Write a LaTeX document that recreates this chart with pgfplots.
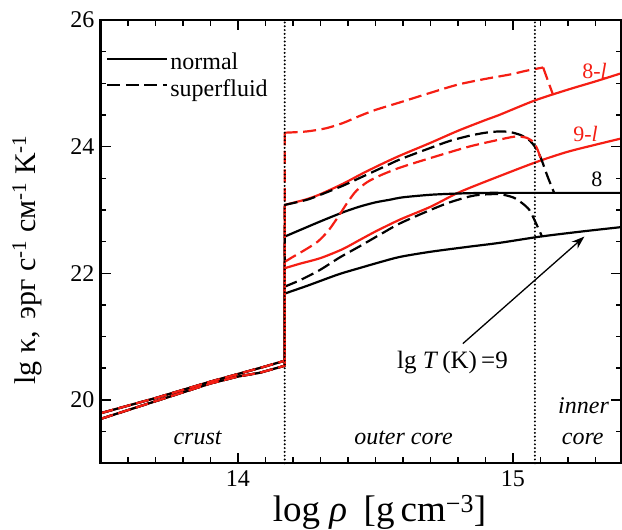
\documentclass[border=0pt]{standalone}
\usepackage{fontspec}
\setmainfont{Liberation Serif}
\usepackage{pgfplots}
\pgfplotsset{compat=1.18}
\usetikzlibrary{arrows.meta}

\definecolor{kred}{RGB}{245,30,20}
\newcommand\tickfont{\fontsize{24bp}{29bp}\selectfont}
\newcommand\smallfont{\fontsize{22bp}{26bp}\selectfont}

\pgfplotsset{
  nsolid/.style={black, line width=2.2bp, line join=round},
  ndash/.style={black, line width=2.2bp, line join=round, dash pattern=on 13bp off 5.5bp},
  rsolid/.style={kred, line width=2.2bp, line join=round},
  rdash/.style={kred, line width=2.2bp, line join=round, dash pattern=on 13bp off 5.5bp},
  zoneline/.style={black, line width=2.2bp, line cap=round, dash pattern=on 0bp off 3.8bp},
  core/.style={smooth, tension=0.45},
  frame/.style={scale only axis, width=521bp, height=443.3bp,
    xmin=13.5, xmax=15.395, ymin=19, ymax=26},
}
\tikzset{
  boxline/.style={black, line width=2.2bp, line cap=rect},
  tk/.style={black, line width=1.6bp},
}

\begin{document}
\begin{tikzpicture}
% curves, labels and legend
\begin{axis}[
  frame, hide axis, clip=false,
  legend cell align=left,
  legend style={draw=none, fill=none, at={(rel axis cs:0,1)}, anchor=north west,
    xshift=5.5bp, yshift=-31bp, inner sep=0pt, font=\tickfont, row sep=4bp,
    /tikz/every even column/.append style={column sep=16bp}},
  legend image code/.code={\draw[#1] (0bp,0.33em) -- (60bp,0.33em);},
]
\addlegendimage{nsolid}
\addlegendentry{normal}
\addlegendimage{ndash}
\addlegendentry{superfluid}

% ---- crust branches and the jump at the crust-core interface
% normal, lg T = 8 with lepton contribution (8-l)
\addplot[rsolid] coordinates {
 (13.5,19.79) (13.6,19.91) (13.7,20.03) (13.8,20.16) (13.9,20.29) (14.0,20.41) (14.1,20.53) (14.17,20.62) (14.17,23.08)};
\addplot[rsolid, core] coordinates {
 (14.17,23.08) (14.25,23.17) (14.3,23.25) (14.38,23.41) (14.45,23.57) (14.52,23.72) (14.59,23.86)
 (14.7,24.06) (14.8,24.25) (14.9,24.42) (14.95,24.5) (15.08,24.73) (15.2,24.9) (15.3,25.03) (15.395,25.16)};
% normal, lg T = 9 with lepton contribution (9-l)
\addplot[rsolid] coordinates {
 (13.5,19.70) (13.6,19.84) (13.7,19.98) (13.8,20.12) (13.9,20.26) (14.0,20.37) (14.08,20.43) (14.17,20.54) (14.17,22.08)};
\addplot[rsolid, core] coordinates {
 (14.17,22.08) (14.224,22.15) (14.3,22.24) (14.38,22.38) (14.44,22.52) (14.5,22.66) (14.59,22.85)
 (14.7,23.05) (14.81,23.29) (14.99,23.6) (15.1,23.78) (15.2,23.92) (15.3,24.03) (15.395,24.13)};
% normal, lg T = 8
\addplot[nsolid] coordinates {
 (13.5,19.79) (13.6,19.91) (13.7,20.03) (13.8,20.16) (13.9,20.29) (14.0,20.41) (14.1,20.53) (14.17,20.62) (14.17,22.58)};
\addplot[nsolid, core] coordinates {
 (14.17,22.58) (14.224,22.68) (14.3,22.82) (14.38,22.96) (14.44,23.05) (14.5,23.12) (14.55,23.16)
 (14.6,23.2) (14.7,23.24) (14.8,23.26) (14.9,23.27) (15.0,23.27) (15.2,23.27) (15.395,23.27)};
% normal, lg T = 9
\addplot[nsolid] coordinates {
 (13.5,19.70) (13.6,19.84) (13.7,19.98) (13.8,20.12) (13.9,20.26) (14.0,20.37) (14.08,20.43) (14.17,20.54) (14.17,21.68)};
\addplot[nsolid, core] coordinates {
 (14.17,21.68) (14.25,21.8) (14.3,21.88) (14.37,21.99) (14.44,22.08) (14.52,22.18) (14.59,22.26)
 (14.7,22.34) (14.84,22.42) (14.95,22.48) (15.1,22.58) (15.25,22.66) (15.395,22.73)};
% superfluid, lg T = 8
\addplot[ndash] coordinates {
 (13.5,19.79) (13.6,19.91) (13.7,20.03) (13.8,20.16) (13.9,20.29) (14.0,20.41) (14.1,20.53) (14.17,20.62) (14.17,23.08)};
\addplot[ndash, core] coordinates {
 (14.17,23.08) (14.25,23.16) (14.3,23.24) (14.38,23.38) (14.45,23.52) (14.52,23.66) (14.59,23.8)
 (14.7,23.98) (14.77,24.09) (14.84,24.17) (14.9,24.22) (14.95,24.24) (14.99,24.23) (15.03,24.18)
 (15.06,24.1) (15.08,24.0) (15.1,23.84) (15.126,23.53) (15.15,23.27)};
% superfluid, lg T = 9
\addplot[ndash] coordinates {
 (13.5,19.70) (13.6,19.84) (13.7,19.98) (13.8,20.12) (13.9,20.26) (14.0,20.37) (14.08,20.43) (14.17,20.54) (14.17,21.79)};
\addplot[ndash, core] coordinates {
 (14.17,21.79) (14.225,21.89) (14.297,22.05) (14.37,22.25) (14.44,22.42) (14.52,22.62) (14.59,22.79)
 (14.7,23.0) (14.77,23.12) (14.84,23.21) (14.88,23.24) (14.95,23.25) (15.0,23.2) (15.03,23.12)
 (15.06,23.0) (15.085,22.78) (15.105,22.59)};
% superfluid, lg T = 8 with lepton contribution
\addplot[rdash] coordinates {
 (13.5,19.79) (13.6,19.91) (13.7,20.03) (13.8,20.16) (13.9,20.29) (14.0,20.41) (14.1,20.53) (14.17,20.62) (14.17,24.22)};
\addplot[rdash, core] coordinates {
 (14.17,24.22) (14.25,24.24) (14.32,24.29) (14.38,24.37) (14.44,24.48) (14.5,24.58) (14.59,24.7)
 (14.7,24.85) (14.8,24.98) (14.9,25.07) (14.99,25.14) (15.05,25.2) (15.11,25.25)};
\addplot[rdash] coordinates {(15.11,25.25) (15.145,24.83)};
% superfluid, lg T = 9 with lepton contribution
\addplot[rdash] coordinates {
 (13.5,19.70) (13.6,19.84) (13.7,19.98) (13.8,20.12) (13.9,20.26) (14.0,20.37) (14.08,20.43) (14.17,20.54) (14.17,22.18)};
\addplot[rdash, core] coordinates {
 (14.17,22.18) (14.2,22.26) (14.24,22.36) (14.29,22.5) (14.33,22.68) (14.37,22.93) (14.4,23.13)
 (14.43,23.3) (14.47,23.44) (14.52,23.55) (14.59,23.67) (14.7,23.82) (14.84,24.0) (14.95,24.11)
 (15.01,24.16) (15.05,24.14) (15.075,24.07) (15.09,23.95) (15.103,23.79)};

% crust / outer core / inner core boundaries
\addplot[zoneline] coordinates {(14.17,19) (14.17,26)};
\addplot[zoneline] coordinates {(15.08,19) (15.08,26)};

% region names
\node[font=\tickfont\itshape, anchor=base] at (axis cs:13.853,19.29) {crust};
\node[font=\tickfont\itshape, anchor=base] at (axis cs:14.602,19.29) {outer core};
\node[font=\tickfont\itshape, anchor=base] at (axis cs:15.257,19.79) {inner};
\node[font=\tickfont\itshape, anchor=base] at (axis cs:15.254,19.29) {core};

% curve labels
\node[font=\smallfont, text=kred, anchor=base] at (axis cs:15.297,25.08) {8-\textit{l}};
\node[font=\smallfont, text=kred, anchor=base] at (axis cs:15.264,24.08) {9-\textit{l}};
\node[font=\smallfont, anchor=base] at (axis cs:15.305,23.37) {8};
\draw[line width=1.3bp, -{Stealth[length=13bp, width=9bp]}] (axis cs:14.818,20.89) -- (axis cs:15.26,22.58);
\node[font=\fontsize{25bp}{30bp}\selectfont, anchor=base] at (axis cs:14.78,20.5) {lg \textit{T}\,(K)\,=9};

% axis titles
\node[font=\fontsize{37bp}{42bp}\selectfont, anchor=base] at (axis cs:14.515,18.08)
  {log \textit{ρ}\hspace{0.45em}[g\,cm\textsuperscript{−3}]};
\node[font=\fontsize{30bp}{36bp}\selectfont, rotate=90, anchor=center] at (axis cs:13.232,22.21)
  {lg κ,\hspace{0.4em}эрг с\textsuperscript{-1} см\textsuperscript{-1} K\textsuperscript{-1}};
\end{axis}

% frame, ticks and tick labels on top of the curves
\begin{axis}[
  frame,
  xtick={14,15}, ytick={20,22,24,26},
  minor x tick num=9, minor y tick num=3,
  major tick length=10bp, minor tick length=6bp,
  axis line style={black, line width=2.2bp},
  tick style={black, line width=1.6bp},
  ticklabel style={font=\tickfont},
  /pgf/number format/assume math mode=true,
  xticklabel style={yshift=-4bp},
  yticklabel style={xshift=-2.5bp},
]
\coordinate (bl) at (rel axis cs:0,0);
\coordinate (tr) at (rel axis cs:1,1);
\addplot[draw=none] coordinates {(14,20)};
% box sides, each stroked on its own
\draw[boxline] (rel axis cs:0,0) -- (rel axis cs:1,0);
\draw[boxline] (rel axis cs:1,0) -- (rel axis cs:1,1);
\draw[boxline] (rel axis cs:1,1) -- (rel axis cs:0,1);
\draw[boxline] (rel axis cs:0,1) -- (rel axis cs:0,0);
% inward ticks on all four sides (10bp major, 6bp minor)
\pgfplotsinvokeforeach{20,22,24,26}{
  \draw[tk] (axis cs:13.5,#1) -- (axis cs:13.5364,#1);
  \draw[tk] (axis cs:15.395,#1) -- (axis cs:15.3586,#1);
}
\pgfplotsinvokeforeach{19.5,20.5,21,21.5,22.5,23,23.5,24.5,25,25.5}{
  \draw[tk] (axis cs:13.5,#1) -- (axis cs:13.5218,#1);
  \draw[tk] (axis cs:15.395,#1) -- (axis cs:15.3732,#1);
}
\pgfplotsinvokeforeach{14,15}{
  \draw[tk] (axis cs:#1,19) -- (axis cs:#1,19.158);
  \draw[tk] (axis cs:#1,26) -- (axis cs:#1,25.842);
}
\pgfplotsinvokeforeach{13.6,13.7,13.8,13.9,14.1,14.2,14.3,14.4,14.5,14.6,14.7,14.8,14.9,15.1,15.2,15.3}{
  \draw[tk] (axis cs:#1,19) -- (axis cs:#1,19.095);
  \draw[tk] (axis cs:#1,26) -- (axis cs:#1,25.905);
}
\end{axis}
\pgfresetboundingbox
\path ([xshift=-100.5bp,yshift=-66.7bp]bl) rectangle ([xshift=0.5bp,yshift=20bp]tr);
\end{tikzpicture}
\end{document}
